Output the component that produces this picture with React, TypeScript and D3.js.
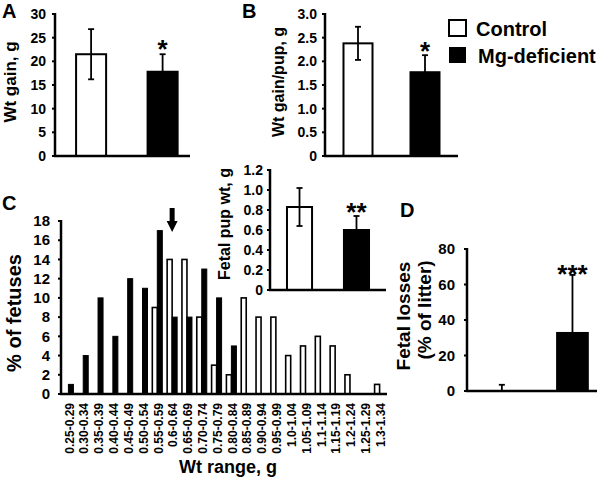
import React from "react";
import * as d3 from "d3";

const groups = ["Control", "Mg-deficient"];
const wtGain = [21.5, 17.8];
const wtGainErr = [5.3, 3.7];
const wtGainPup = [2.38, 1.77];
const wtGainPupErr = [0.35, 0.36];
const fetalPupWt = [0.83, 0.6];
const fetalPupWtErr = [0.19, 0.14];
const fetalLosses = [0, 32.7];
const fetalLossesErr = [3.5, 32.7];

const wtRanges = [
  "0.25-0.29", "0.30-0.34", "0.35-0.39", "0.40-0.44", "0.45-0.49", "0.50-0.54",
  "0.55-0.59", "0.6-0.64", "0.65-0.69", "0.70-0.74", "0.75-0.79", "0.80-0.84",
  "0.85-0.89", "0.90-0.94", "0.95-0.99", "1.0-1.04", "1.05-1.09", "1.1-1.14",
  "1.15-1.19", "1.2-1.24", "1.25-1.29", "1.3-1.34",
];
const controlPct = [0, 0, 0, 0, 0, 0, 9, 14, 14, 8, 3, 2, 10, 8, 8, 4, 5, 6, 5, 2, 0, 1];
const mgPct = [1, 4, 10, 6, 12, 11, 17, 8, 8, 13, 10, 5, 0, 0, 0, 0, 0, 0, 0, 0, 0, 0];

const ticksA = [0, 5, 10, 15, 20, 25, 30];
const ticksB = [0, 0.5, 1.0, 1.5, 2.0, 2.5, 3.0];
const ticksC = [0, 2, 4, 6, 8, 10, 12, 14, 16, 18];
const ticksInset = [0, 0.2, 0.4, 0.6, 0.8, 1.0, 1.2];
const ticksD = [0, 20, 40, 60, 80];

const FONT = "'Liberation Sans', Arial, Helvetica, sans-serif";

type PanelProps = {
  values: number[];
  errs: number[];
  ticks: number[];
  fmt: (v: number) => string;
  y0: number; y1: number; domainMax: number;
  xAxis: number; xEnd: number;
  pInner: number; pOuter: number; align: number;
  stars: string; starBase: number;
  tickSize: number; tickGap: number;
};

function BarPanel(p: PanelProps) {
  const y = d3.scaleLinear().domain([0, p.domainMax]).range([p.y0, p.y1]);
  const x = d3.scaleBand<string>().domain(groups).range([p.xAxis, p.xEnd])
    .paddingInner(p.pInner).paddingOuter(p.pOuter).align(p.align);
  const bw = x.bandwidth();
  return (
    <g>
      {groups.map((g, i) => {
        const xl = x(g)!;
        const cx = xl + bw / 2;
        const v = p.values[i];
        const e = p.errs[i];
        const filled = i === 1;
        return (
          <g key={g}>
            {v > 0 && (
              <rect x={xl} y={y(v)} width={bw} height={p.y0 - y(v)}
                fill={filled ? "#000" : "#fff"} stroke="#000" strokeWidth={2} />
            )}
            <line x1={cx} x2={cx} y1={y(v + e)} y2={filled || v === 0 ? y(v) : y(v - e)} stroke="#000" strokeWidth={1.8} />
            <line x1={cx - 3} x2={cx + 3} y1={y(v + e)} y2={y(v + e)} stroke="#000" strokeWidth={1.8} />
            {!filled && v > 0 && (
              <line x1={cx - 3} x2={cx + 3} y1={y(v - e)} y2={y(v - e)} stroke="#000" strokeWidth={1.8} />
            )}
            {filled && (
              <text x={cx} y={p.starBase} textAnchor="middle" fontSize={26} fontWeight="bold" fontFamily={FONT}>{p.stars}</text>
            )}
          </g>
        );
      })}
      <line x1={p.xAxis} x2={p.xAxis} y1={p.y1 - 1} y2={p.y0 + 1} stroke="#000" strokeWidth={2.5} />
      <line x1={p.xAxis - 1} x2={p.xEnd} y1={p.y0} y2={p.y0} stroke="#000" strokeWidth={2.5} />
      {p.ticks.map((t) => (
        <g key={t}>
          <line x1={p.xAxis - 3} x2={p.xAxis} y1={y(t)} y2={y(t)} stroke="#000" strokeWidth={2} />
          <text x={p.xAxis - p.tickGap} y={y(t)} dy="0.35em" textAnchor="end" fontSize={p.tickSize} fontWeight="bold" fontFamily={FONT}>{p.fmt(t)}</text>
        </g>
      ))}
    </g>
  );
}

function Histogram() {
  const y0 = 394, y1 = 221;
  const y = d3.scaleLinear().domain([0, 18]).range([y0, y1]);
  const x = d3.scaleBand<string>().domain(wtRanges).range([61, 387]).padding(0);
  const bw = 5;
  const arrowCx = x("0.6-0.64")! + x.bandwidth() / 2;
  return (
    <g>
      {wtRanges.map((r, i) => {
        const c = x(r)! + x.bandwidth() / 2;
        return (
          <g key={r}>
            {controlPct[i] > 0 && (
              <rect x={c - bw} y={y(controlPct[i])} width={bw} height={y0 - y(controlPct[i])}
                fill="#fff" stroke="#000" strokeWidth={1.6} />
            )}
            {mgPct[i] > 0 && (
              <rect x={c} y={y(mgPct[i])} width={bw} height={y0 - y(mgPct[i])} fill="#000" stroke="#000" strokeWidth={1} />
            )}
            <text transform={`translate(${c + 1},403) rotate(-90)`} dy="0.35em" textAnchor="end"
              fontSize={12} fontWeight="bold" fontFamily={FONT}>{r}</text>
          </g>
        );
      })}
      <line x1={61} x2={61} y1={y1 - 1} y2={y0 + 1} stroke="#000" strokeWidth={2.5} />
      <line x1={60} x2={387} y1={y0} y2={y0} stroke="#000" strokeWidth={2.5} />
      {ticksC.map((t) => (
        <g key={t}>
          <line x1={58} x2={61} y1={y(t)} y2={y(t)} stroke="#000" strokeWidth={2} />
          <text x={50} y={y(t)} dy="0.35em" textAnchor="end" fontSize={15} fontWeight="bold" fontFamily={FONT}>{t}</text>
        </g>
      ))}
      <path d={`M${arrowCx - 2.5},208 L${arrowCx + 2.5},208 L${arrowCx + 2.5},221 L${arrowCx + 5.5},221 L${arrowCx},232 L${arrowCx - 5.5},221 L${arrowCx - 2.5},221 Z`} fill="#000" />
    </g>
  );
}

export default function App() {
  return (
    <svg width={608} height={480} style={{ position: "absolute", left: 0, top: 0, background: "#fff" }}
      fontFamily={FONT}>
      {/* Panel A */}
      <text x={2} y={18} fontSize={20} fontWeight="bold">A</text>
      <text transform="translate(16,82) rotate(-90)" textAnchor="middle" fontSize={17} fontWeight="bold">Wt gain, g</text>
      <BarPanel values={wtGain} errs={wtGainErr} ticks={ticksA} fmt={(v) => String(v)}
        y0={156} y1={14} domainMax={30} xAxis={55} xEnd={190}
        pInner={0.58} pOuter={0.234} align={0.63} stars="*" starBase={58} tickSize={14} tickGap={9} />

      {/* Panel B */}
      <text x={242} y={18} fontSize={20} fontWeight="bold">B</text>
      <text transform="translate(284,82) rotate(-90)" textAnchor="middle" fontSize={16} fontWeight="bold">Wt gain/pup, g</text>
      <BarPanel values={wtGainPup} errs={wtGainPupErr} ticks={ticksB} fmt={(v) => (v === 0 ? "0" : v.toFixed(1))}
        y0={156} y1={14} domainMax={3} xAxis={325} xEnd={458}
        pInner={0.567} pOuter={0.276} align={0.5} stars="*" starBase={60} tickSize={14} tickGap={8} />

      {/* Legend */}
      <rect x={449} y={20} width={17} height={16} fill="#fff" stroke="#000" strokeWidth={2} />
      <text x={476} y={36} fontSize={20} fontWeight="bold">Control</text>
      <rect x={449} y={47} width={17} height={16} fill="#000" />
      <text x={478} y={63} fontSize={20} fontWeight="bold">Mg-deficient</text>

      {/* Panel C */}
      <text x={2} y={210} fontSize={20} fontWeight="bold">C</text>
      <text transform="translate(21,313) rotate(-90)" textAnchor="middle" fontSize={20} fontWeight="bold">% of fetuses</text>
      <Histogram />
      <text x={228} y={473} textAnchor="middle" fontSize={18} fontWeight="bold">Wt range, g</text>

      {/* Inset */}
      <text transform="translate(230,224) rotate(-90)" textAnchor="middle" fontSize={16} fontWeight="bold">Fetal pup wt, g</text>
      <BarPanel values={fetalPupWt} errs={fetalPupWtErr} ticks={ticksInset} fmt={(v) => (v === 0 ? "0" : v.toFixed(1))}
        y0={290} y1={170} domainMax={1.2} xAxis={270} xEnd={386}
        pInner={0.56} pOuter={0.298} align={0.5} stars="**" starBase={221} tickSize={14} tickGap={7} />

      {/* Panel D */}
      <text x={400} y={217} fontSize={20} fontWeight="bold">D</text>
      <text transform="translate(410,316) rotate(-90)" textAnchor="middle" fontSize={19} fontWeight="bold">Fetal losses</text>
      <text transform="translate(431,310) rotate(-90)" textAnchor="middle" fontSize={19} fontWeight="bold">(% of litter)</text>
      <BarPanel values={fetalLosses} errs={fetalLossesErr} ticks={ticksD} fmt={(v) => String(v)}
        y0={391} y1={249} domainMax={80} xAxis={467} xEnd={597}
        pInner={0.565} pOuter={0.203} align={0.68} stars="***" starBase={283} tickSize={15} tickGap={12} />
    </svg>
  );
}
